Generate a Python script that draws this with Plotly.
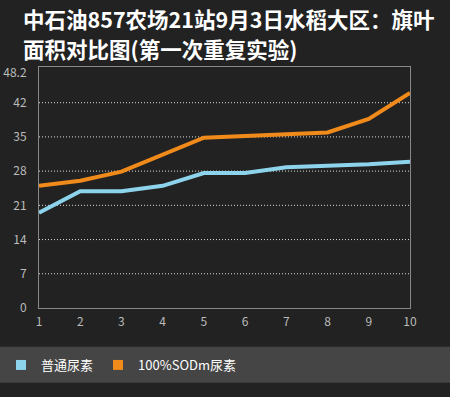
import plotly.graph_objects as go

categories = [1, 2, 3, 4, 5, 6, 7, 8, 9, 10]
urea = [19.5, 23.9, 23.9, 25.0, 27.6, 27.6, 28.8, 29.0, 29.4, 29.9]
sodm_urea = [25.0, 26.05, 27.9, 31.4, 34.85, 35.2, 35.5, 35.9, 38.7, 44.0]
series_names = ["普通尿素", "100%SODm尿素"]
y_ticks = [0, 7, 14, 21, 28, 35, 42, 48.2]
y_tick_text = ["0", "7", "14", "21", "28", "35", "42", "48.2"]
grid_values = [7, 14, 21, 28, 35, 42]
title_lines = ["中石油<b>857</b>农场<b>21</b>站<b>9</b>月<b>3</b>日水稻大区：旗叶",
               "面积对比图(第一次重复实验)"]

BLUE = "#8DD3EC"
ORANGE = "#F08A1A"
BG = "#222222"
FONT = "Noto Sans CJK SC, DejaVu Sans, sans-serif"

W, H = 450, 397
L, R, T, B = 39, 40, 67, 89
PW, PH = W - L - R, H - T - B


def px_x(px):
    return (px - L) / PW


def px_y(py):
    return (H - B - py) / PH


fig = go.Figure()
for vals, name, col in [(urea, series_names[0], BLUE), (sodm_urea, series_names[1], ORANGE)]:
    fig.add_trace(go.Scatter(x=categories, y=vals, mode="lines", name=name,
                             line=dict(color=col, width=4), showlegend=False))
    fig.add_trace(go.Scatter(x=[None], y=[None], mode="markers", name=name,
                             marker=dict(symbol="square", size=10, color=col),
                             showlegend=True))

shapes = []
for g in grid_values:
    shapes.append(dict(type="line", xref="paper", x0=0, x1=1, yref="y", y0=g, y1=g,
                       line=dict(color="#dddddd", width=1, dash="1px,2px"), layer="below"))
# legend band
shapes.append(dict(type="rect", xref="paper", yref="paper",
                   x0=px_x(0), x1=px_x(W), y0=px_y(346.7), y1=px_y(382.7),
                   fillcolor="#454545", line=dict(width=0), layer="below"))

annotations = []
for txt, cy in zip(title_lines, [18, 48]):
    annotations.append(dict(text=txt, xref="paper", yref="paper", x=px_x(21), y=px_y(cy),
                            xanchor="left", yanchor="middle", showarrow=False,
                            font=dict(family=FONT, size=21.5, color="#ffffff", weight="bold")))

fig.update_layout(
    width=W, height=H,
    margin=dict(l=L, r=R, t=T, b=B, autoexpand=False),
    paper_bgcolor=BG, plot_bgcolor=BG,
    font=dict(family=FONT, color="#bbbbbb", size=12),
    xaxis=dict(range=[1, 10], tickvals=categories, showgrid=False, zeroline=False,
               showline=True, linecolor="#888888", linewidth=1, mirror=True,
               ticks="", ticklabelstandoff=3, automargin=False,
               tickfont=dict(size=12, color="#bbbbbb")),
    yaxis=dict(range=[0, 49.3], tickvals=y_ticks, ticktext=y_tick_text, showgrid=False,
               zeroline=False, showline=True, linecolor="#888888", linewidth=1, mirror=True,
               ticks="", ticklabelstandoff=9, automargin=False,
               tickfont=dict(size=12, color="#bbbbbb")),
    shapes=shapes,
    annotations=annotations,
    legend=dict(orientation="h", x=px_x(1), xanchor="left", y=px_y(365), yanchor="middle",
                bgcolor="rgba(0,0,0,0)", font=dict(size=13, color="#ffffff"),
                itemclick=False, tracegroupgap=0),
    showlegend=True,
)

fig.write_html("out.html", config={"displayModeBar": False},
               post_script="document.body.style.margin='0';document.body.style.overflow='hidden';")
